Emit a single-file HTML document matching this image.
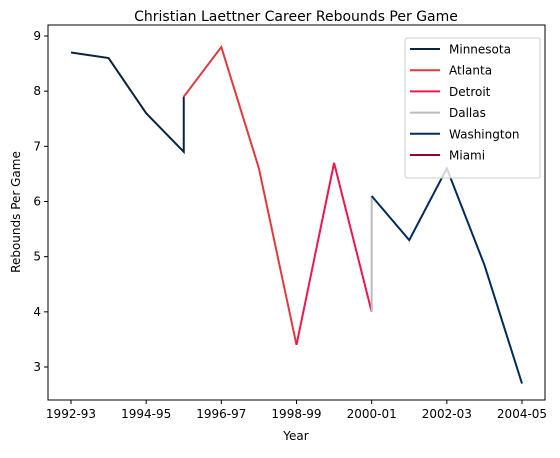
<!DOCTYPE html>
<html><head><meta charset="utf-8"><style>
body{margin:0;background:#fff}
svg text{font-family:"DejaVu Sans","Liberation Sans",sans-serif;fill:#000}
</style></head><body>
<svg id="c" width="560" height="453" xmlns="http://www.w3.org/2000/svg"></svg>
<script>
const categories=["1992-93","1993-94","1994-95","1995-96","1996-97","1997-98","1998-99","1999-00","2000-01","2001-02","2002-03","2003-04","2004-05"];
const tickLabels=["1992-93","1994-95","1996-97","1998-99","2000-01","2002-03","2004-05"];
const yTicks=[3,4,5,6,7,8,9];
const teams=["Minnesota","Atlanta","Detroit","Dallas","Washington","Miami"];
const colors=["#0C2340","#E03A3E","#ED174C","#BBBBBB","#002B5C","#98002E"];
const minnesotaX=[0,1,2,3,3];const minnesotaY=[8.7,8.6,7.6,6.9,7.9];
const atlantaX=[3,4,5,6];const atlantaY=[7.9,8.8,6.6,3.4];
const detroitX=[6,7,8];const detroitY=[3.4,6.7,4.0];
const dallasX=[8,8];const dallasY=[4.0,6.1];
const washingtonX=[8,9,10,11,12];const washingtonY=[6.1,5.3,6.6,4.85,2.7];
const miamiX=[];const miamiY=[];
const seriesX=[minnesotaX,atlantaX,detroitX,dallasX,washingtonX,miamiX];
const seriesY=[minnesotaY,atlantaY,detroitY,dallasY,washingtonY,miamiY];

const NS="http://www.w3.org/2000/svg",svg=document.getElementById('c');
const L=48,R=545,T=25,B=400;
const xs=i=>71+i*(522-71)/12;
const ys=v=>367-(v-3)*(367-36)/6;
function mk(t,a,p){const e=document.createElementNS(NS,t);for(const k in a)e.setAttribute(k,a[k]);(p||svg).appendChild(e);return e;}
let e;
e=mk('text',{x:296,y:21,'font-size':14,'text-anchor':'middle'});e.textContent="Christian Laettner Career Rebounds Per Game";


for(let s=0;s<teams.length;s++){
 if(!seriesX[s].length)continue;
 const pts=seriesX[s].map((x,i)=>xs(x)+','+ys(seriesY[s][i])).join(' ');
 e=mk('polyline',{points:pts,fill:'none',stroke:colors[s],'stroke-width':2});
 
 
}
e=mk('rect',{x:L,y:T,width:R-L,height:B-T,fill:'none',stroke:'#000','stroke-width':1});


tickLabels.forEach(lab=>{const i=categories.indexOf(lab),x=xs(i);
 mk('line',{x1:x,x2:x,y1:B,y2:B+4,stroke:'#000'});
 e=mk('text',{x:x,y:B+18,'font-size':12,'text-anchor':'middle'});e.textContent=lab;
 
 
});
yTicks.forEach(v=>{const y=ys(v);
 mk('line',{x1:L-4,x2:L,y1:y,y2:y,stroke:'#000'});
 e=mk('text',{x:L-7,y:y+4,'font-size':12,'text-anchor':'end'});e.textContent=v;
 
 
});
e=mk('text',{x:296,y:440,'font-size':12,'text-anchor':'middle'});e.textContent="Year";


e=mk('text',{x:0,y:0,'font-size':12,'text-anchor':'middle',transform:'translate(20,212) rotate(-90)'});e.textContent="Rebounds Per Game";


const lg=mk('g',{});


mk('rect',{x:405,y:38,width:135,height:140,rx:2,fill:'#fff',stroke:'#ccc','fill-opacity':0.8},lg);
teams.forEach((t,i)=>{const y=49+i*21.2;
 mk('line',{x1:410,x2:440,y1:y,y2:y,stroke:colors[i],'stroke-width':2},lg);
 const tx=mk('text',{x:449,y:y+4.5,'font-size':12},lg);tx.textContent=t;
 
 
});
</script>
</body></html>
